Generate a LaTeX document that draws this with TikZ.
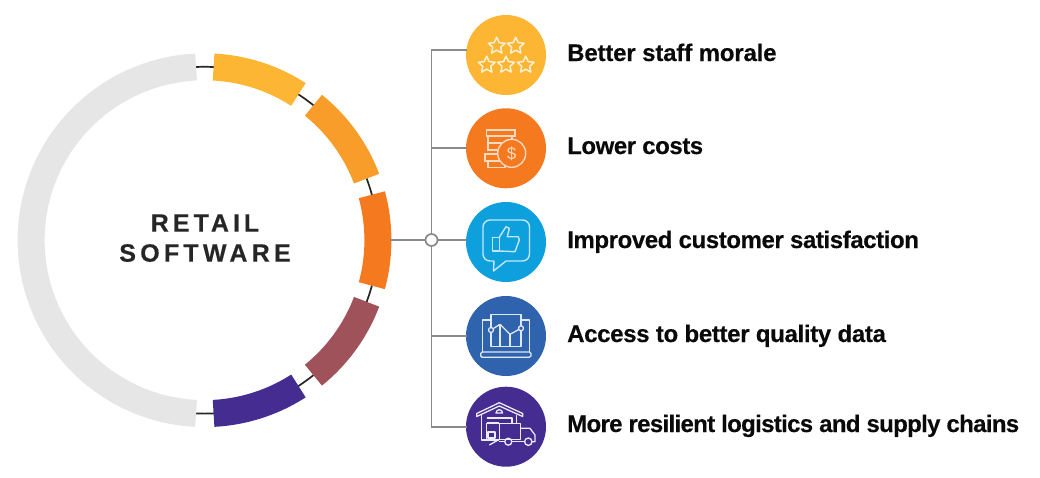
\documentclass[tikz,border=0pt]{standalone}
\usepackage{fontspec}
\setmainfont{Liberation Sans}
\usetikzlibrary{calc}
\definecolor{cgold}{HTML}{FDB633}
\definecolor{corange}{HTML}{F99D2A}
\definecolor{cdeep}{HTML}{F5791F}
\definecolor{cmaroon}{HTML}{A0525A}
\definecolor{cpurple}{HTML}{452C91}
\definecolor{cgrey}{HTML}{E6E6E6}
\definecolor{cblue}{HTML}{0E9FDD}
\definecolor{croyal}{HTML}{3063AE}
\definecolor{cline}{HTML}{8A8A8A}
\definecolor{cink}{HTML}{262626}
\definecolor{ctext}{HTML}{0A0A0A}
\newcommand{\ringseg}[3]{\draw[line width=27pt,#1,line cap=butt] plot[domain=#2:#3,samples=60,smooth] ({204.5+173.4*cos(\x)},{240.2-173.4*sin(\x)});}
\newcommand{\starshape}[2]{\draw[staricon] plot[samples at={90,126,...,414}] ({#1+(mod(round((\x-90)/36),2)==0?8.8:4.2)*cos(\x)},{#2-(mod(round((\x-90)/36),2)==0?8.8:4.2)*sin(\x)}) -- cycle;}
\newcommand{\lbl}[2]{\fontsize{24}{26}\selectfont\bfseries\addfontfeature{LetterSpace=#1,FakeBold=0.35}#2}
\tikzset{
  badge/.style={circle,minimum size=80pt,inner sep=0pt,draw=none},
  label/.style={anchor=base west,inner sep=0pt,text=ctext},
  ringtext/.style={inner sep=0pt,text=cink},
  conn/.style={draw=cline,line width=1.7pt},
  staricon/.style={draw=white!80!cgold,line width=1.5pt,line join=round},
  coinicon/.style={draw=white!72!cdeep,line width=1.4pt,fill=cdeep},
  thumbicon/.style={draw=white!75!cblue,line width=1.4pt,line join=round},
  charticon/.style={draw=white!85!croyal,line width=1.3pt,line join=round},
  truckicon/.style={draw=white!90!cpurple,line width=1.3pt,line join=round},
}
\begin{document}
\begin{tikzpicture}[x=1pt,y=-1pt]
\useasboundingbox (0,0) rectangle (1040,477);
% ring
\draw[cink,line width=1.7pt] (204.5,240.2) circle[radius=173.4pt];
\ringseg{cgrey}{92.8}{267.2}
\ringseg{cgold}{87}{57.2}
\ringseg{corange}{51.1}{20.8}
\ringseg{cdeep}{15.2}{-15.2}
\ringseg{cmaroon}{-20.8}{-51.1}
\ringseg{cpurple}{-57.2}{-87}
\node[ringtext] (t1) at (205,223) {\fontsize{25}{30}\selectfont\bfseries\addfontfeature{LetterSpace=16,FakeBold=0.3}RETAIL};
\node[ringtext] (t2) at (205,253) {\fontsize{25}{30}\selectfont\bfseries\addfontfeature{LetterSpace=17,FakeBold=0.3}SOFTWARE};
% badges
\node[badge,fill=cgold] (b1) at (506,55) {};
\node[badge,fill=cdeep] (b2) at (506,148.3) {};
\node[badge,fill=cblue] (b3) at (506,242) {};
\node[badge,fill=croyal] (b4) at (506,336) {};
\node[badge,fill=cpurple] (b5) at (506,426.7) {};
% connectors
\node[circle,draw=cline,line width=1.7pt,fill=white,minimum size=12pt,inner sep=0pt] (hub) at (431.5,240) {};
\coordinate (e1) at (467,49.7);
\coordinate (e2) at (467,148);
\coordinate (e3) at (467,240);
\coordinate (e4) at (467,336);
\coordinate (e5) at (467,426.7);
\coordinate (r3) at (390,240);
\draw[conn] (r3) -- (hub);
\draw[conn] (hub) -- (e3);
\draw[conn] (hub) |- (e1);
\draw[conn] (hub) |- (e2);
\draw[conn] (hub) |- (e4);
\draw[conn] (hub) |- (e5);
% labels
\node[label] (l1) at (567,61) {\lbl{-0.7}{Better staff morale}};
\node[label] (l2) at (567,154) {\lbl{-1.9}{Lower costs}};
\node[label] (l3) at (567,248) {\lbl{-1.7}{Improved customer satisfaction}};
\node[label] (l4) at (567,342) {\lbl{-1.4}{Access to better quality data}};
\node[label] (l5) at (567,432) {\lbl{-2.8}{More resilient logistics and supply chains}};
% stars
\starshape{496.7}{46}\starshape{515.7}{46}
\starshape{486.7}{65}\starshape{506}{65}\starshape{525.7}{65}
% coins
\draw[coinicon] (486.7,130) rectangle (515,136);
\draw[coinicon] (488,136) rectangle (512,143);
\draw[coinicon] (488,143) rectangle (505,150);
\draw[coinicon] (485,154) rectangle (505,161);
\draw[coinicon] (488,161) rectangle (505,167.5);
\draw[coinicon] (511.7,153.3) circle[radius=14pt];
\node[inner sep=0pt,text=white!72!cdeep,font=\fontsize{17}{17}\selectfont] (dollar) at (511.7,153.3) {\$};
% thumb
\draw[thumbicon] (490,220) -- (522.5,220) arc[start angle=90,end angle=0,radius=7pt] -- (529.5,254) arc[start angle=0,end angle=-90,radius=7pt] -- (506,261) -- (493.5,271) -- (494,261) -- (490,261) arc[start angle=-90,end angle=-180,radius=7pt] -- (483,227) arc[start angle=180,end angle=90,radius=7pt] -- cycle;
\draw[thumbicon] (492.7,237.3) rectangle (499.3,251);
\draw[thumbicon] (499.3,237.3) -- (506,226.7) -- (509.3,228.3) -- (507.3,236.7) -- (518.3,236.7) -- (519.3,240) -- (515,251.7) -- (499.3,251);
% chart
\draw[charticon] (491,320) -- (482.7,320) -- (482.7,352);
\draw[charticon] (521,320) -- (529.3,320) -- (529.3,352);
\draw[charticon,rounded corners=1.5pt] (480.7,352) rectangle (531,357.3);
\draw[charticon] (491,314.3) rectangle (521,346.7);
\draw[charticon] (491,330) -- (500,324.3) -- (510,334.3) -- (521,328.3);
\draw[charticon] (500,324.3) -- (500,346.7) (510,334.3) -- (510,346.7);
\draw[charticon,fill=croyal] (491,330) circle[radius=2.5pt] (521,328.3) circle[radius=2.5pt];
% truck
\draw[truckicon] (476.7,413.5) -- (499.3,402.7) -- (522.7,413.5) -- (522.7,416.5) -- (499.3,406) -- (476.7,416.5) -- cycle;
\draw[truckicon] (481.7,415) -- (481.7,440) -- (499,440);
\draw[truckicon] (516.7,415) -- (516.7,423);
\draw[truckicon] (486.5,423) -- (486.5,440) (486.5,423) -- (499,423) (486.5,418) -- (512,418) -- (512,423);
\draw[truckicon] (496,413) arc[start angle=180,end angle=0,radius=3.3pt] -- cycle;
\draw[truckicon] (488,432) rectangle (495,438);
\draw[truckicon] (499.3,423.3) rectangle (520.7,439.5);
\draw[truckicon] (520.7,428.3) -- (530,428.3) -- (535,435) -- (535,441.7) -- (532,441.7);
\draw[truckicon] (524.5,441.7) -- (512,441.7) (504.5,441.7) -- (499.3,441.7);
\draw[truckicon] (489.3,445) -- (499.3,439.3);
\draw[truckicon] (508.3,441.7) circle[radius=3.5pt] (528.3,441.7) circle[radius=3.7pt];
\end{tikzpicture}
\end{document}
